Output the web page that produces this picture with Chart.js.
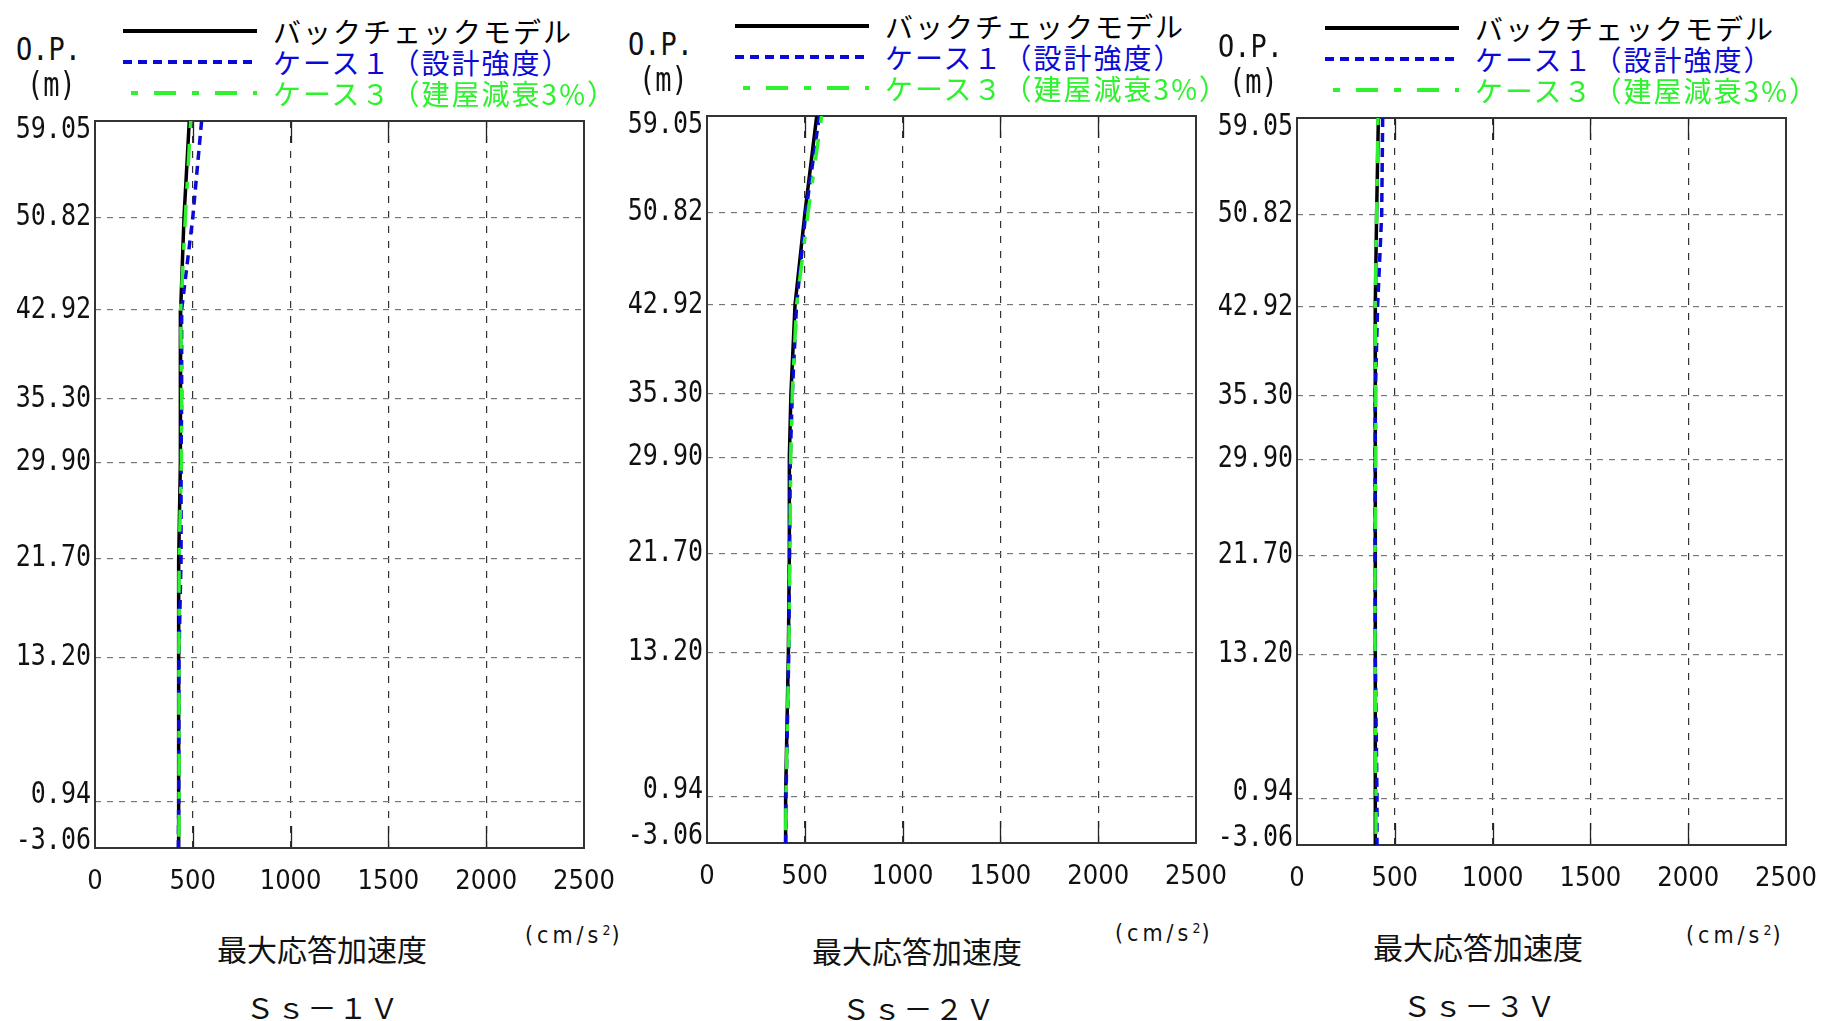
<!DOCTYPE html>
<html>
<head>
<meta charset="utf-8">
<script src="https://cdn.jsdelivr.net/npm/chart.js@4.4.1/dist/chart.umd.min.js"></script>
<style>
  html, body { margin: 0; padding: 0; background: #fff; }
  body { position: relative; width: 1821px; height: 1021px; overflow: hidden; }
  canvas { position: absolute; }
  .t { position: absolute; white-space: nowrap; transform: translateY(-50%); line-height: 1; color: #111; }
  .jp { font-family: "Noto Sans CJK JP", sans-serif; }
  .mono { font-family: "DejaVu Sans Mono", monospace; }
  .cond { font-family: "DejaVu Sans Condensed", "DejaVu Sans", sans-serif; }
  svg { position: absolute; overflow: visible; }
</style>
</head>
<body>
<script>
"use strict";

/* ---- data ---- */
const levels = [59.05, 50.82, 42.92, 35.30, 29.90, 21.70, 13.20, 0.94, -3.06];   // O.P. (m)
const xTicks = [0, 500, 1000, 1500, 2000, 2500];                                    // cm/s2

const ss1Back  = [482, 455, 438, 438, 435, 428, 429, 428, 426];
const ss1Case1 = [545, 500, 443, 443, 440, 440, 429, 428, 426];
const ss1Case3 = [489, 462, 438, 443, 442, 430, 429, 430, 429];

const ss2Back  = [561, 501, 450, 429, 421, 421, 416, 402, 402];
const ss2Case1 = [574, 505, 458, 436, 426, 422, 418, 404, 402];
const ss2Case3 = [586, 517, 458, 436, 428, 424, 418, 404, 402];

const ss3Back  = [416, 407, 400, 400, 400, 399, 399, 402, 402];
const ss3Case1 = [438, 433, 412, 400, 400, 399, 400, 409, 409];
const ss3Case3 = [414, 407, 400, 403, 403, 399, 399, 404, 404];

const seriesNames = ["バックチェックモデル", "ケース１（設計強度）", "ケース３（建屋減衰3%）"];
const caseNames   = ["Ｓｓ－１Ｖ", "Ｓｓ－２Ｖ", "Ｓｓ－３Ｖ"];
const panelData   = [
  [ss1Back, ss1Case1, ss1Case3],
  [ss2Back, ss2Case1, ss2Case3],
  [ss3Back, ss3Case1, ss3Case3],
];

/* ---- styles / layout ---- */
const lineColors = ["#000000", "#0a0ad8", "#2ef22e"];
const lineDashes = [[], [9, 6], [7, 16, 22, 16]];
const lineWidths = [3.5, 3.5, 3.5];
const labelNudge = [9, 0, 0, 0, 0, 0, 0, -6, -7];

const plotLeft = [95, 707, 1297];
const plotTop  = [121, 116, 118];
const PLOT_W = 489, PLOT_H = 727;
const AX_W = 95, PAD_TOP = 20, PAD_RIGHT = 40, AX_H = 50;

const axisTitlePos = [[322, 948], [917, 950], [1478, 946]];
const unitPos      = [[525, 935], [1115, 933], [1686, 935]];
const casePos      = [[323, 1006], [919, 1007], [1480, 1004]];

function addText(txt, cls, x, y, css) {
  const d = document.createElement("div");
  d.className = "t " + cls;
  d.textContent = txt;
  d.style.left = x + "px";
  d.style.top = y + "px";
  Object.assign(d.style, css || {});
  document.body.appendChild(d);
  return d;
}

/* box, inner x ticks, O.P. labels */
const frame = {
  id: "frame",
  beforeDatasetsDraw(chart) {
    const { ctx, chartArea: a, scales } = chart;
    ctx.save();
    ctx.strokeStyle = "#222";
    ctx.lineWidth = 1.3;
    xTicks.slice(1, -1).forEach(v => {
      const x = Math.round(scales.x.getPixelForValue(v)) + 0.5;
      ctx.beginPath();
      ctx.moveTo(x, a.top); ctx.lineTo(x, a.top + 22);
      ctx.moveTo(x, a.bottom - 22); ctx.lineTo(x, a.bottom);
      ctx.stroke();
    });
    ctx.strokeStyle = "#333";
    ctx.lineWidth = 2;
    ctx.strokeRect(a.left, a.top, a.right - a.left, a.bottom - a.top);
    ctx.restore();
  },
  afterDraw(chart) {
    const { ctx, scales } = chart;
    ctx.save();
    ctx.font = '25px "DejaVu Sans Mono", monospace';
    ctx.fillStyle = "#111";
    ctx.textAlign = "right";
    ctx.textBaseline = "middle";
    levels.forEach((v, i) => {
      const y = scales.y.getPixelForValue(v) + labelNudge[i];
      ctx.save();
      ctx.translate(chart.chartArea.left - 4, y);
      ctx.scale(1, 1.2);
      ctx.fillText(v.toFixed(2), 0, 0);
      ctx.restore();
    });
    ctx.restore();
  },
};

panelData.forEach((series, p) => {
  const L = plotLeft[p], T = plotTop[p];

  const cv = document.createElement("canvas");
  cv.width = AX_W + PLOT_W + PAD_RIGHT;
  cv.height = PAD_TOP + PLOT_H + AX_H;
  cv.style.left = (L - AX_W) + "px";
  cv.style.top = (T - PAD_TOP) + "px";
  document.body.appendChild(cv);

  new Chart(cv, {
    type: "scatter",
    data: {
      datasets: series.map((vals, s) => ({
        label: seriesNames[s],
        data: vals.map((v, i) => ({ x: v, y: levels[i] })),
        showLine: true,
        borderColor: lineColors[s],
        borderDash: lineDashes[s],
        borderWidth: lineWidths[s],
        pointRadius: 0,
        fill: false,
        order: 2 - s,
      })),
    },
    options: {
      responsive: false,
      animation: false,
      devicePixelRatio: 1,
      layout: { padding: { top: PAD_TOP, right: PAD_RIGHT, left: 0, bottom: 0 } },
      plugins: { legend: { display: false }, tooltip: { enabled: false } },
      scales: {
        x: {
          type: "linear",
          min: 0, max: 2500,
          afterBuildTicks: s => { s.ticks = xTicks.map(v => ({ value: v })); },
          afterFit: s => { s.height = AX_H; s.paddingLeft = 0; s.paddingRight = 0; },
          ticks: {
            color: "#111",
            padding: 18,
            maxRotation: 0,
            callback: v => String(v),
            font: { family: '"DejaVu Sans Condensed", "DejaVu Sans", sans-serif', size: 27 },
          },
          grid: {
            drawTicks: false,
            lineWidth: 1.2,
            color: c => (c.tick && (c.tick.value === 0 || c.tick.value === 2500)) ? "rgba(0,0,0,0)" : "#333",
          },
          border: { display: false, dash: [7, 8] },
        },
        y: {
          type: "linear",
          min: -3.06, max: 59.05,
          afterBuildTicks: s => { s.ticks = levels.map(v => ({ value: v })); },
          afterFit: s => { s.width = AX_W; s.paddingTop = 0; s.paddingBottom = 0; },
          ticks: { display: false },
          grid: {
            drawTicks: false,
            lineWidth: 1.2,
            color: c => (c.tick && (c.tick.value === 59.05 || c.tick.value === -3.06)) ? "rgba(0,0,0,0)" : "#777",
          },
          border: { display: false, dash: [6, 6] },
        },
      },
    },
    plugins: [frame],
  });

  /* axis caption */
  addText("O.P.", "mono", L - 79, T - 72, { fontSize: "27px", transform: "translateY(-50%) scaleY(1.2)" });
  addText("(m)", "mono", L - 68, T - 37, { fontSize: "27px", transform: "translateY(-50%) scaleY(1.25)" });

  /* legend */
  const rowY = [T - 90, T - 59, T - 28];
  series.forEach((_, s) => {
    const svg = document.createElementNS("http://www.w3.org/2000/svg", "svg");
    svg.setAttribute("width", "140");
    svg.setAttribute("height", "8");
    svg.style.left = (L + 28) + "px";
    svg.style.top = (rowY[s] - 4) + "px";
    const ln = document.createElementNS("http://www.w3.org/2000/svg", "line");
    ln.setAttribute("x1", s === 2 ? 8 : 0);
    ln.setAttribute("x2", 134);
    ln.setAttribute("y1", 4);
    ln.setAttribute("y2", 4);
    ln.setAttribute("stroke", lineColors[s]);
    ln.setAttribute("stroke-width", 4);
    if (lineDashes[s].length) ln.setAttribute("stroke-dasharray", lineDashes[s].join(" "));
    svg.appendChild(ln);
    document.body.appendChild(svg);
    addText(seriesNames[s], "jp", L + 178, rowY[s], { fontSize: "28px", letterSpacing: "2px", color: lineColors[s] });
  });

  /* titles */
  addText("最大応答加速度", "jp", axisTitlePos[p][0], axisTitlePos[p][1],
          { fontSize: "30px", transform: "translate(-50%,-50%)" });
  const u = addText("(cm/s", "cond", unitPos[p][0], unitPos[p][1], { fontSize: "23px", letterSpacing: "4px" });
  const sup = document.createElement("sup");
  sup.textContent = "2";
  sup.style.fontSize = "14px";
  sup.style.letterSpacing = "1px";
  u.appendChild(sup);
  u.appendChild(document.createTextNode(")"));
  addText(caseNames[p], "jp", casePos[p][0], casePos[p][1],
          { fontSize: "29px", letterSpacing: "2px", transform: "translate(-50%,-50%)" });
});
</script>
</body>
</html>
